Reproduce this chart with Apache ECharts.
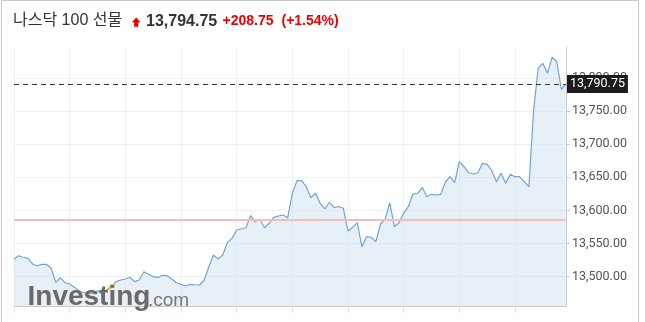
<!DOCTYPE html>
<html><head><meta charset="utf-8">
<script src="https://cdn.jsdelivr.net/npm/echarts@6/dist/echarts.min.js"></script>
<style>html,body{margin:0;padding:0;background:#fff}#c{width:645px;height:322px}</style>
</head><body><div id="c"></div>
<script>
const title = '나스닥 100 선물';
const lastQuote = '13,794.75';
const change = '+208.75';
const changePct = '(+1.54%)';
const prevClose = 13586;
const lastPrice = 13790.75;
const yTicks = [13500, 13550, 13600, 13650, 13700, 13750, 13800];
const prices = [
13526.3,13531.7,13529.3,13527.8,13519.2,13516.6,13518.7,13518.7,13512.7,13491.5,
13498.5,13490.9,13489,13484,13478.9,13475.9,13475,13474.3,13478.9,13473.4,
13479.9,13484,13492.5,13495,13496.5,13499.1,13492.5,13495,13507.5,13503.6,
13500,13498.5,13502.1,13501.5,13496.5,13490.9,13488.5,13486,13488.5,13487.9,
13487.5,13495,13515.1,13532.7,13526.7,13532.7,13551.6,13557.9,13570.5,13572,
13573.9,13592,13583,13586.6,13573.9,13580.6,13589.6,13591.6,13593.1,13589,
13625.9,13644.9,13644.9,13635.8,13619.2,13625.9,13610.8,13602.2,13612.3,13604.1,
13605.9,13603.2,13569,13574.5,13581.5,13545.3,13560.4,13559.5,13552.8,13579.5,
13586.6,13611.7,13575.5,13581.5,13595.7,13605.6,13624.8,13625.9,13634.9,13620.7,
13624.3,13623.3,13624.3,13642.9,13650.9,13641.8,13673.5,13666,13656.9,13655,
13656.9,13671.1,13669.6,13660,13643.4,13656,13640.9,13654.5,13650.9,13650.9,
13643.4,13635.8,13750,13814.5,13822,13806.9,13831.1,13824.4,13782.8,13790.75
];
const times = [];
for (let i = 0; i < prices.length; i++) {
  const m = i * 5;
  times.push(String(Math.floor(m / 60)).padStart(2, '0') + ':' + String(m % 60).padStart(2, '0'));
}
function fmt(v, d) {
  const s = v.toFixed(d).split('.');
  return s[0].replace(/\B(?=(\d{3})+(?!\d))/g, ',') + (d ? '.' + s[1] : '');
}
const chart = echarts.init(document.getElementById('c'), null, {renderer: 'canvas'});
chart.setOption({
  animation: false,
  grid: {left: 14, right: 79, top: 47, bottom: 16},
  xAxis: {
    type: 'category', data: times, boundaryGap: false,
    axisLine: {lineStyle: {color: '#c8c8c8'}},
    axisTick: {show: true, interval: 11, length: 7, lineStyle: {color: '#e4e4e4'}},
    axisLabel: {show: false},
    splitLine: {show: true, interval: 11, lineStyle: {color: '#f0f0f0'}}
  },
  yAxis: {
    type: 'value', position: 'right', min: 13455.8, max: 13846.6, scale: true,
    axisLine: {show: true, lineStyle: {color: '#cccccc'}},
    axisTick: {show: true, length: 4, customValues: yTicks, lineStyle: {color: '#cccccc'}},
    axisLabel: {customValues: yTicks, formatter: v => fmt(v, 2), color: '#555', fontSize: 12.5, fontFamily: 'Roboto', margin: 6},
    splitLine: {show: true, lineStyle: {color: '#f0f0f0'}}
  },
  series: [{
    type: 'line', data: prices, symbol: 'none',
    lineStyle: {color: '#70a5d5', width: 1.2},
    areaStyle: {color: 'rgba(205,222,238,0.65)', origin: 'start'},
    markLine: {
      silent: true, symbol: ['none', 'none'],
      data: [
        {yAxis: prevClose, lineStyle: {color: '#f4bcbc', type: 'solid', width: 2}, label: {show: false}},
        {yAxis: lastPrice, lineStyle: {color: '#333', type: [5, 4], width: 1},
         label: {show: true, position: 'end', distance: 1, formatter: fmt(lastPrice, 2),
                 backgroundColor: '#1c1c1c', color: '#fff', padding: [3, 3, 2, 3],
                 fontSize: 12.5, fontFamily: 'Roboto'}}
      ]
    }
  }],
  graphic: [
    {type: 'rect', shape: {x: 1.5, y: 0.5, width: 637, height: 340}, style: {fill: 'none', stroke: '#c8c8c8', lineWidth: 1}, z: 100},
    {type: 'text', x: 13, y: 21, style: {text: title, font: '16px "Liberation Sans", "Noto Sans CJK KR"', fill: '#333', textVerticalAlign: 'middle'}},
    {type: 'polygon', shape: {points: [[136.2, 17.5], [140.6, 22.2], [138.3, 22.2], [138.3, 26.8], [134.1, 26.8], [134.1, 22.2], [131.8, 22.2]]}, style: {fill: '#e00'}},
    {type: 'text', x: 146, y: 21.5, style: {text: lastQuote, font: 'bold 16px "Liberation Sans"', fill: '#333', textVerticalAlign: 'middle'}},
    {type: 'text', x: 222.5, y: 21.5, style: {text: change, font: 'bold 14px "Liberation Sans"', fill: '#e00', textVerticalAlign: 'middle'}},
    {type: 'text', x: 281.5, y: 21.5, style: {text: changePct, font: 'bold 14px "Liberation Sans"', fill: '#e00', textVerticalAlign: 'middle'}},
    {type: 'polygon', shape: {points: [[107, 289], [111, 284], [115, 284], [111, 289]]}, style: {fill: '#f3b54a', opacity: 0.85}, z: 90},
    {type: 'text', x: 27.5, y: 297.5, style: {text: 'Investing', font: 'bold 28px "Liberation Sans"', fill: '#6a6a6a', textVerticalAlign: 'middle', letterSpacing: -0.5}, z: 95},
    {type: 'text', x: 148, y: 300.5, style: {text: '.com', font: '19px "Liberation Sans"', fill: '#777', textVerticalAlign: 'middle'}, z: 95}
  ]
});
</script>
</body></html>
